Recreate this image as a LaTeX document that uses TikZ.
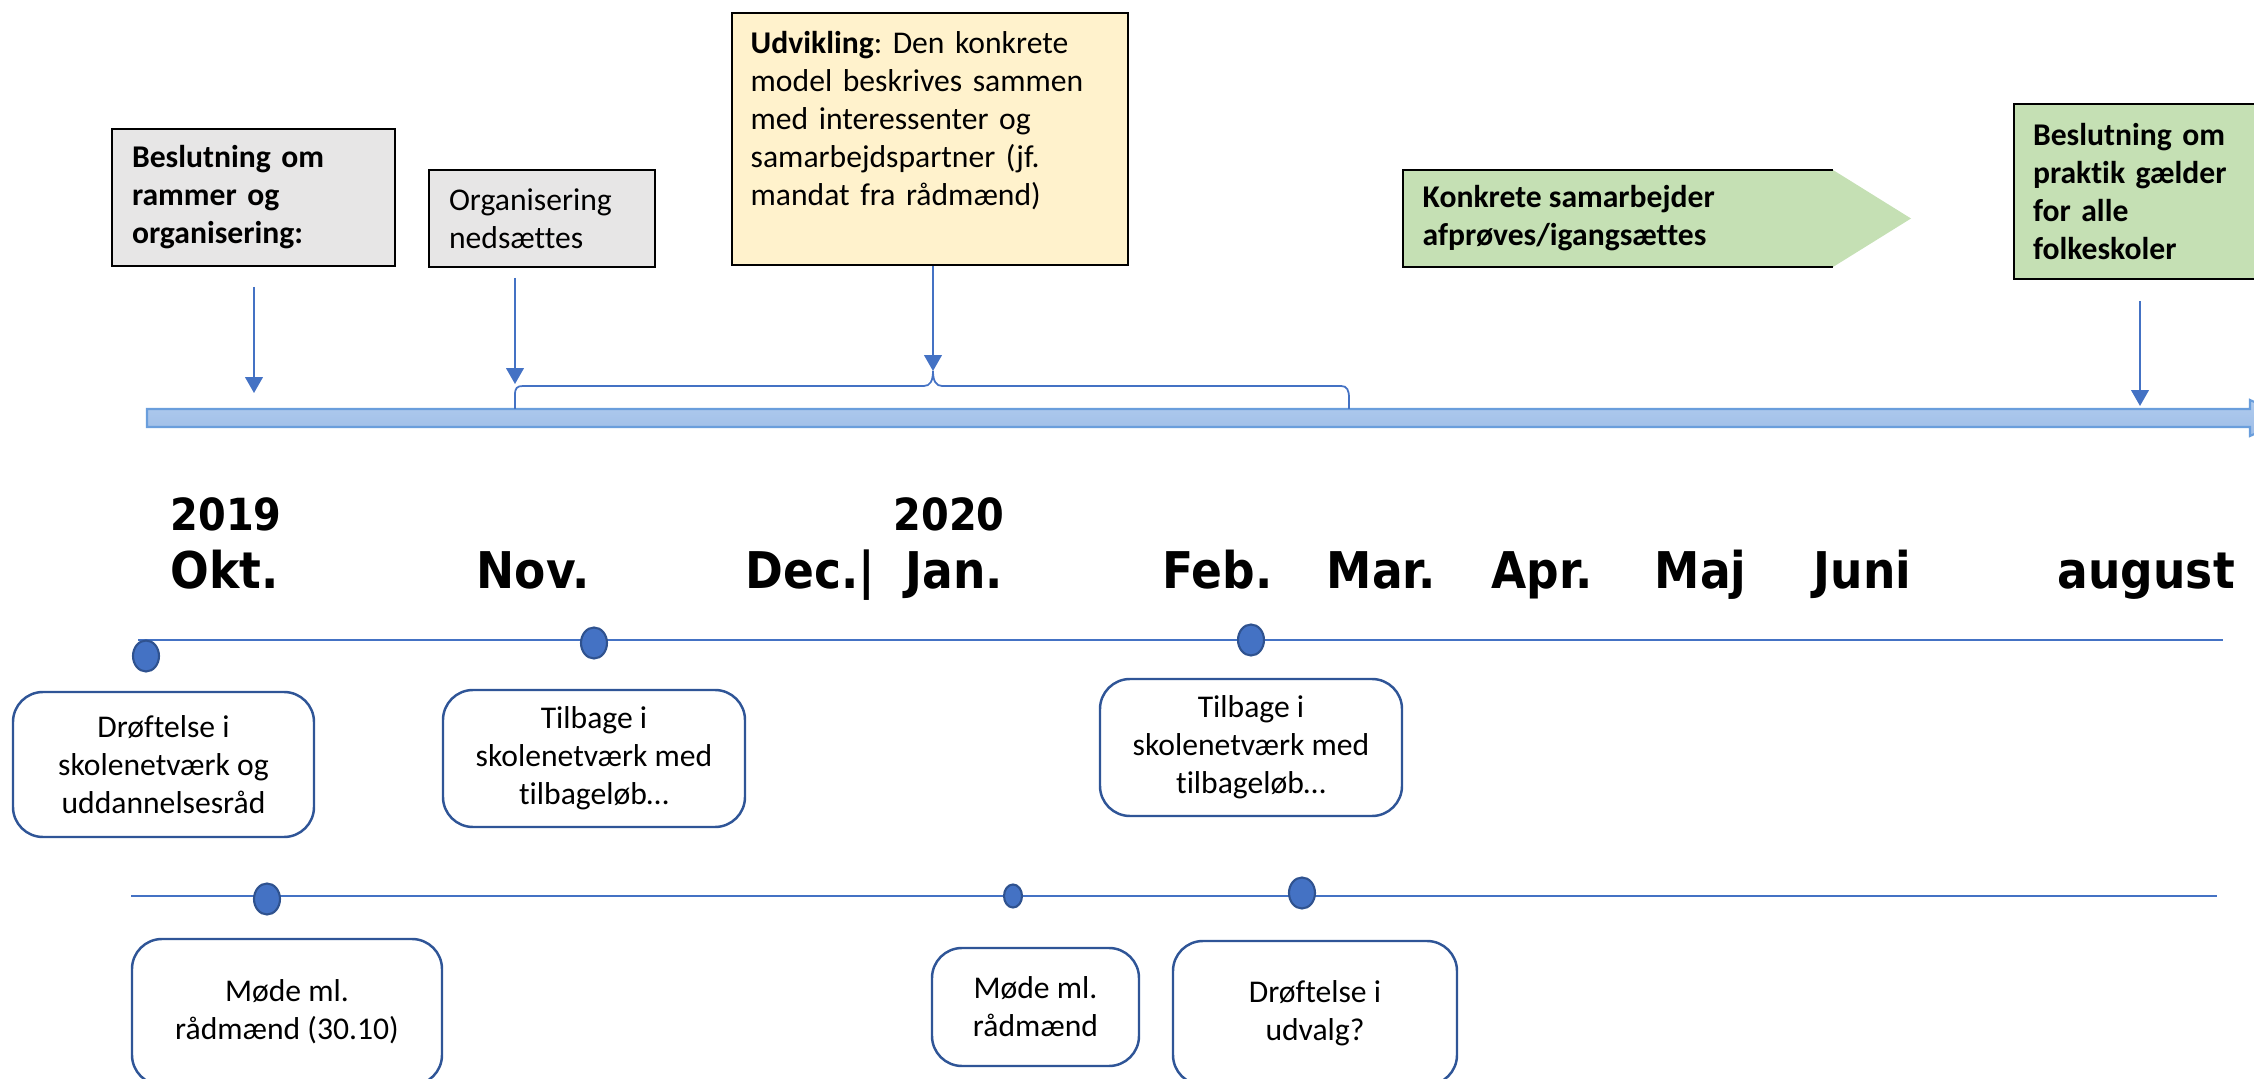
\documentclass[tikz,border=0pt]{standalone}
\usepackage{fontspec}
\setmainfont{Carlito}[Ligatures=NoCommon]
\newfontfamily\monthfont[FakeStretch=0.9]{DejaVu Sans}
\frenchspacing
\usepackage{tikz}
\usetikzlibrary{positioning, arrows.meta, shapes.geometric}
\usepackage{xcolor}
\definecolor{tlblue}{HTML}{4472C4}
\definecolor{boxblue}{HTML}{2F5597}
\definecolor{dotedge}{HTML}{2F528F}
\definecolor{baredge}{HTML}{6A9EDC}
\definecolor{barhi}{HTML}{B0CBEE}
\definecolor{barlo}{HTML}{9EBDE7}
\definecolor{grayfill}{HTML}{E7E6E6}
\definecolor{yellowfill}{HTML}{FFF2CC}
\definecolor{greenfill}{HTML}{C5E0B4}

\begin{document}
\begin{tikzpicture}[x=0.1mm, y=-0.1mm,
        every node/.style={font=\fontsize{9}{10.8}\selectfont},
        topbox/.style={draw=black, line width=0.6pt, align=left, inner xsep=2mm, inner ysep=0pt},
        evbox/.style={draw=boxblue, line width=0.7pt, rounded corners=3mm, fill=white, align=center},
        evdot/.style={ellipse, draw=dotedge, fill=tlblue, line width=0.6pt, minimum width=2.6mm, minimum height=3.1mm, inner sep=0pt},
        month/.style={font=\monthfont\bfseries\fontsize{14.4}{16}\selectfont, anchor=base west, inner sep=0pt},
        year/.style={month, font=\monthfont\bfseries\fontsize{12.6}{14}\selectfont},
        tlarrow/.style={draw=tlblue, line width=0.5pt, -{Triangle[length=4.5pt, width=5pt]}},
        tlline/.style={draw=tlblue, line width=0.5pt}]
    \useasboundingbox (0,0) rectangle (2254,1079);
    \clip (0,0) rectangle (2254,1079);

    \node[topbox, fill=grayfill, anchor=west, minimum width=28.3mm, minimum height=13.7mm, text width=24.3mm, font=\fontsize{9}{10.8}\selectfont\bfseries] (ramme) at (111,197.5)
        {Beslutning om\\ rammer og\\ organisering:};
    \node[topbox, fill=grayfill, anchor=west, minimum width=22.6mm, minimum height=9.7mm, text width=18.6mm] (nedsat) at (428,218.5)
        {Organisering\\ nedsættes};
    \node[topbox, fill=yellowfill, anchor=north west, minimum width=39.6mm, minimum height=25.2mm] (udv) at (731,12) {};
    \node[anchor=north west, inner sep=0pt, text width=35.8mm, align=left] (udvtxt) at (750,31)
        {\textbf{Udvikling}: Den konkrete\\ model beskrives sammen\\ med interessenter og\\ samarbejdspartner (jf.\\ mandat fra rådmænd)};
    \fill[greenfill] (1403,170) -- (1833,170) -- (1911,218.5) -- (1833,267) -- (1403,267) -- cycle;
    \draw[line width=0.6pt] (1833,170) -- (1403,170) -- (1403,267) -- (1833,267);
    \node[anchor=west, inner sep=0pt, align=left, font=\fontsize{9}{10.8}\selectfont\bfseries] (konkret) at (1422,218.5)
        {Konkrete samarbejder\\ afprøves/igangsættes};
    \node[topbox, fill=greenfill, anchor=west, minimum width=28mm, minimum height=17.5mm, text width=24.2mm, inner xsep=1.9mm, font=\fontsize{9}{10.8}\selectfont\bfseries] (praktik) at (2013,191.5)
        {Beslutning om\\ praktik gælder\\ for alle\\ folkeskoler};

    \shade[top color=barhi, bottom color=barlo, draw=baredge, line width=0.6pt]
        (147,409) -- (2250,409) -- (2250,400) -- (2290,418) -- (2250,436) -- (2250,427) -- (147,427) -- cycle;
    \coordinate (cusp) at (933,371);
    \draw[tlline] (515,409) -- (515,395) .. controls (515,388) and (517,386) .. (523,386)
        -- (924,386) .. controls (930,386) and (933,381) .. (cusp)
        .. controls (933,381) and (936,386) .. (942,386)
        -- (1341,386) .. controls (1347,386) and (1349,390) .. (1349,398) -- (1349,409);

    \coordinate (ramme-a) at (254,287);
    \coordinate (ramme-b) at (254,393);
    \coordinate (nedsat-a) at (515,278);
    \coordinate (nedsat-b) at (515,384);
    \coordinate (praktik-a) at (2140,301);
    \coordinate (praktik-b) at (2140,406);
    \draw[tlarrow] (ramme-a) -- (ramme-b);
    \draw[tlarrow] (nedsat-a) -- (nedsat-b);
    \draw[tlarrow] (udv.south -| cusp) -- (cusp);
    \draw[tlarrow] (praktik-a) -- (praktik-b);

    \node[year] (y2019) at (170,531) {2019};
    \node[year] (y2020) at (893,531) {2020};
    \node[month] (okt) at (170,589) {Okt.};
    \node[month] (nov) at (476,589) {Nov.};
    \node[month] (dec) at (745,589) {Dec.|};
    \node[month] (jan) at (905,589) {Jan.};
    \node[month] (feb) at (1162,589) {Feb.};
    \node[month] (mar) at (1326,589) {Mar.};
    \node[month] (apr) at (1491,589) {Apr.};
    \node[month] (maj) at (1654,589) {Maj};
    \node[month] (juni) at (1813,589) {Juni};
    \node[month] (aug) at (2057,589) {august};

    \coordinate (l1a) at (138,640);
    \coordinate (l1b) at (2223,640);
    \coordinate (l2a) at (131,896);
    \coordinate (l2b) at (2217,896);
    \draw[tlline] (l1a) -- (l1b);
    \draw[tlline] (l2a) -- (l2b);

    \node[evdot] (d1) at (146,656) {};
    \node[evdot] (d2) at (594,643) {};
    \node[evdot] (d3) at (1251,640) {};
    \node[evdot] (d4) at (267,899) {};
    \node[evdot, minimum width=1.8mm, minimum height=2.3mm] (d5) at (1013,896) {};
    \node[evdot] (d6) at (1302,893) {};

    \node[evbox, minimum width=30.1mm, minimum height=14.5mm] (skole1) at (163.5,764.5)
        {Drøftelse i\\ skolenetværk og\\ uddannelsesråd};
    \node[evbox, minimum width=30.2mm, minimum height=13.7mm] (skole2) at (594,758.5)
        {Tilbage i\\ skolenetværk med\\ tilbageløb…};
    \node[evbox, minimum width=30.2mm, minimum height=13.7mm] (skole3) at (1251,747.5)
        {Tilbage i\\ skolenetværk med\\ tilbageløb…};
    \node[evbox, minimum width=31mm, minimum height=14.6mm] (raad1) at (287,1012)
        {Møde ml.\\ rådmænd (30.10)};
    \node[evbox, minimum width=20.7mm, minimum height=11.8mm] (raad2) at (1035.5,1007)
        {Møde ml.\\ rådmænd};
    \node[evbox, minimum width=28.4mm, minimum height=14.4mm] (udvalg) at (1315,1013)
        {Drøftelse i\\ udvalg?};
\end{tikzpicture}
\end{document}
